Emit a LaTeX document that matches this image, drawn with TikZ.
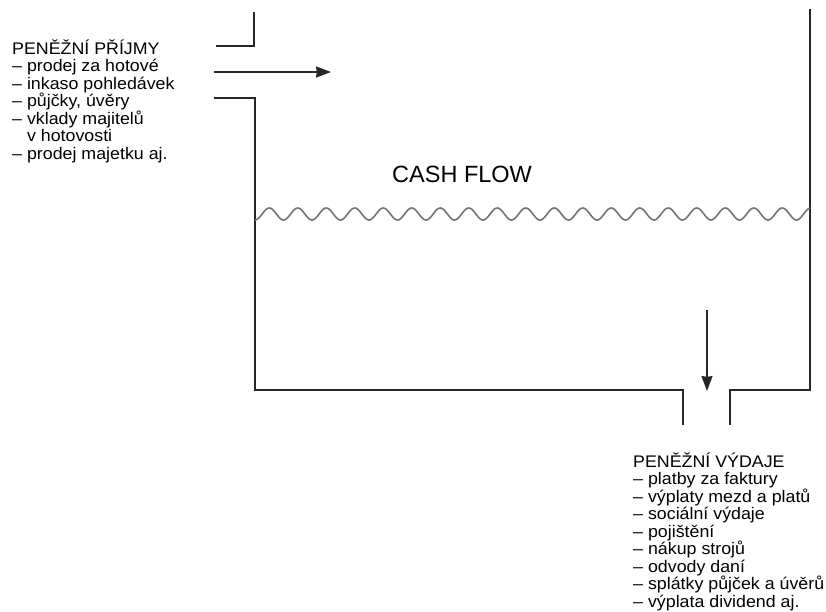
\documentclass[tikz,border=0pt]{standalone}
\usepackage{fontspec}
\setmainfont{Liberation Sans}
\newfontfamily\popisfont[FakeStretch=1.06]{Liberation Sans}
\usetikzlibrary{arrows.meta}

\tikzset{
  stena/.style={line width=2pt, color=black!85},
  tok/.style={line width=2pt, color=black!85, -{Stealth[length=15pt,width=11pt,inset=1pt]}},
  hladina/.style={line width=1.6pt, color=black!55},
  popis/.style={align=left, inner sep=0pt, font=\popisfont\fontsize{16.8}{17.5}\selectfont},
}

\begin{document}
\begin{tikzpicture}[x=1pt, y=-1pt]
\useasboundingbox (0,0) rectangle (826,611);

% Nadrz
\draw[stena] (216,46) -- (254,46) -- (254,12);
\draw[stena] (214,98) -- (255,98) -- (255,390) -- (683,390) -- (683,425);
\draw[stena] (730,425) -- (730,390) -- (810,390) -- (810,9);

% Hladina
\draw[hladina] plot[domain=0:555, samples=500] ({255+\x}, {214+6*cos((\x/28.5)*360)});

% Toky
\coordinate (prijem) at (214,72);
\coordinate (prijemK) at (331,72);
\draw[tok] (prijem) -- (prijemK);
\coordinate (vydaj) at (707,310);
\coordinate (vydajK) at (707,391);
\draw[tok] (vydaj) -- (vydajK);

% Popisy (base = posledni radek)
\node[popis, anchor=base west] (prijmy) at (12,159) {PENĚŽNÍ PŘÍJMY\\
  – prodej za hotové\\
  – inkaso pohledávek\\
  – půjčky, úvěry\\
  – vklady majitelů\\
  \phantom{– }v hotovosti\\
  – prodej majetku aj.};
\node[anchor=base west, inner sep=0pt, font=\fontsize{23.5}{26}\selectfont] (cf) at (392,182) {CASH FLOW};
\node[popis, anchor=base west] (vydaje) at (633,607) {PENĚŽNÍ VÝDAJE\\
  – platby za faktury\\
  – výplaty mezd a platů\\
  – sociální výdaje\\
  – pojištění\\
  – nákup strojů\\
  – odvody daní\\
  – splátky půjček a úvěrů\\
  – výplata dividend aj.};
\end{tikzpicture}
\end{document}
